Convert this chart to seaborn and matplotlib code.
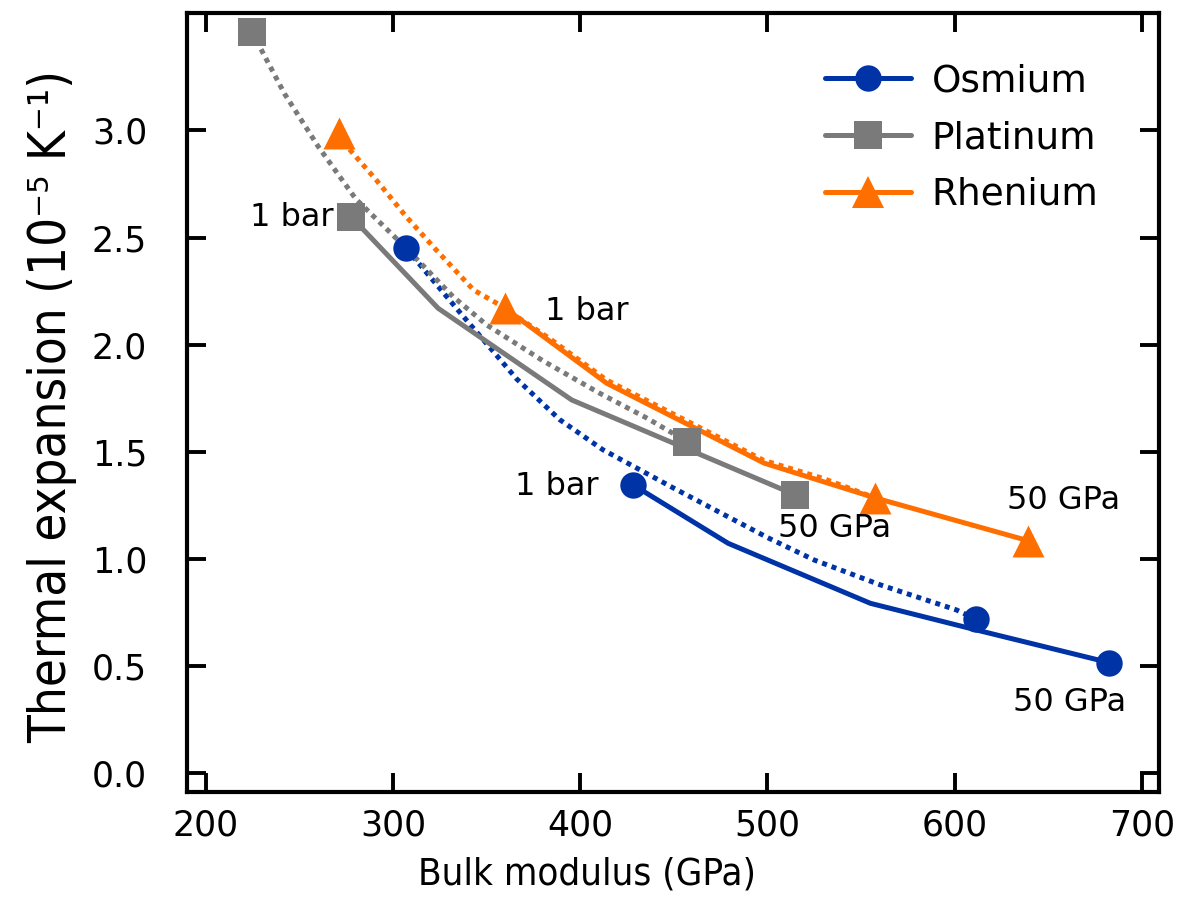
import matplotlib
matplotlib.use("Agg")
import matplotlib.pyplot as plt
from matplotlib.lines import Line2D
import seaborn as sns
import pandas as pd

# ---- data ----
os_solid_x = [428.3, 479.0, 555.0, 611.0, 682.7]
os_solid_y = [1.345, 1.073, 0.793, 0.670, 0.516]
os_dot_x = [306.9, 335.7, 366.0, 389.0, 412.0, 450.0, 500.0, 525.0, 560.0, 601.0, 611.5]
os_dot_y = [2.45, 2.15, 1.84, 1.65, 1.51, 1.33, 1.10, 0.995, 0.88, 0.762, 0.719]

pt_solid_x = [277.5, 324.0, 395.4, 455.0, 514.9]
pt_solid_y = [2.597, 2.17, 1.742, 1.521, 1.299]
pt_dot_x = [224.4, 242.0, 260.0, 280.0, 307.0, 332.0, 350.0, 380.0, 410.0, 435.0, 457.2]
pt_dot_y = [3.461, 3.17, 2.924, 2.68, 2.45, 2.224, 2.092, 1.925, 1.775, 1.66, 1.547]

re_solid_x = [359.8, 414.1, 498.3, 557.5, 639.4]
re_solid_y = [2.17, 1.82, 1.447, 1.285, 1.085]
re_dot_x = [271.0, 277.0, 291.0, 307.0, 323.0, 343.0, 356.0, 385.0, 414.0, 450.0, 498.0, 530.0, 557.5]
re_dot_y = [2.99, 2.908, 2.768, 2.597, 2.442, 2.255, 2.19, 2.02, 1.835, 1.675, 1.46, 1.375, 1.285]

metals = ["Osmium", "Platinum", "Rhenium"]
colors = {"Osmium": "#0033a6", "Platinum": "#7a7a7a", "Rhenium": "#ff6f00"}
markers = {"Osmium": "o", "Platinum": "s", "Rhenium": "^"}
msizes = {"Osmium": 19, "Platinum": 20, "Rhenium": 23}

labels = [
    ("1 bar", 268.0, 2.595, "right"),
    ("1 bar", 381.0, 2.156, "left"),
    ("1 bar", 410.0, 1.336, "right"),
    ("50 GPa", 535.6, 1.143, "center"),
    ("50 GPa", 658.0, 1.275, "center"),
    ("50 GPa", 661.7, 0.328, "center"),
]

series = {
    "Osmium": [(os_dot_x, os_dot_y, "dot"), (os_solid_x, os_solid_y, "solid")],
    "Platinum": [(pt_dot_x, pt_dot_y, "dot"), (pt_solid_x, pt_solid_y, "solid")],
    "Rhenium": [(re_dot_x, re_dot_y, "dot"), (re_solid_x, re_solid_y, "solid")],
}

sns.set_theme(style="ticks")
plt.rcParams["font.family"] = ["DejaVu Sans"]
plt.rcParams["text.color"] = "black"
plt.rcParams["axes.labelcolor"] = "black"
plt.rcParams["xtick.color"] = "black"
plt.rcParams["ytick.color"] = "black"

fig = plt.figure(figsize=(11.82, 9.11), dpi=100)
ax = fig.add_axes([0.1585, 0.131, 0.8223, 0.855])

lw = 3.6
for m in metals:
    c = colors[m]
    for xs, ys, kind in series[m]:
        df = pd.DataFrame({"x": xs, "y": ys})
        ls = (0, (1, 1)) if kind == "dot" else "-"
        sns.lineplot(data=df, x="x", y="y", ax=ax, color=c, linewidth=lw,
                     linestyle=ls, sort=False, estimator=None, legend=False,
                     dash_capstyle="butt")
        ends = df.iloc[[0, -1]]
        sns.scatterplot(data=ends, x="x", y="y", ax=ax, color=c,
                        marker=markers[m], s=msizes[m] ** 2, linewidth=0,
                        legend=False, zorder=3)

for txt, x, y, ha in labels:
    ax.text(x, y, txt, fontsize=23, ha=ha, va="center", color="black")

handles = [Line2D([0], [0], color=colors[m], lw=lw, marker=markers[m],
                  markersize=msizes[m], markeredgewidth=0) for m in metals]
leg = ax.legend(handles, metals, loc="upper left", bbox_to_anchor=(0.656, 0.935),
                frameon=False, fontsize=27, handlelength=2.3, handletextpad=0.55,
                labelspacing=0.55, borderpad=0, borderaxespad=0, numpoints=1)
for t in leg.get_texts():
    t.set_color("black")

ax.set_xlim(190, 709.4)
ax.set_ylim(-0.086, 3.549)
ax.set_xticks([200, 300, 400, 500, 600, 700])
ax.set_yticks([0.0, 0.5, 1.0, 1.5, 2.0, 2.5, 3.0])
ax.set_yticklabels(["0.0", "0.5", "1.0", "1.5", "2.0", "2.5", "3.0"])
ax.tick_params(direction="in", length=13.5, width=2.8, top=True, right=True,
               labelsize=25, colors="black")
ax.tick_params(axis="x", pad=12)
ax.tick_params(axis="y", pad=29)
for sp in ax.spines.values():
    sp.set_linewidth(3.0)
    sp.set_color("black")

ax.set_xlabel("Bulk modulus (GPa)", fontsize=27.5, fontstretch="condensed",
              color="black")
ax.xaxis.set_label_coords(0.411, -0.083)
ax.set_ylabel("Thermal expansion (10\u207b\u2075 K\u207b\u00b9)", fontsize=36.5,
              fontstretch="condensed", color="black")
ax.yaxis.set_label_coords(-0.113, 0.494)

fig.savefig("out.png", dpi=100)
